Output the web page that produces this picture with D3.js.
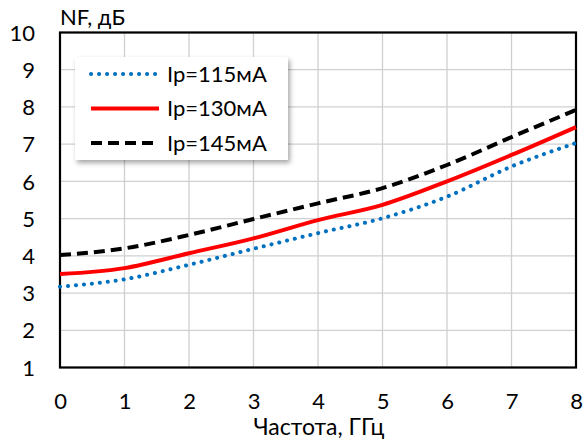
<!DOCTYPE html>
<html><head><meta charset="utf-8">
<script src="https://cdn.jsdelivr.net/npm/d3@7"></script>
<style>body{margin:0;background:#fff}svg{display:block}</style>
</head><body>
<script>
const freq = [0, 1, 2, 3, 4, 5, 6, 7, 8];
const ip115 = [3.17, 3.37, 3.76, 4.19, 4.61, 5.01, 5.59, 6.40, 7.03];
const ip130 = [3.51, 3.67, 4.07, 4.47, 4.96, 5.37, 6.00, 6.71, 7.46];
const ip145 = [4.02, 4.20, 4.56, 4.99, 5.41, 5.82, 6.44, 7.19, 7.92];
const seriesNames = ["Ip=115мА", "Ip=130мА", "Ip=145мА"];
const xTicks = [0, 1, 2, 3, 4, 5, 6, 7, 8];
const yTicks = [1, 2, 3, 4, 5, 6, 7, 8, 9, 10];

const W = 585, H = 445;
const m = {l: 60, r: 9, t: 32.5, b: 77.5};
const font = "Lato, 'Open Sans', sans-serif";
const svg = d3.select("body").append("svg").attr("width", W).attr("height", H);
const x = d3.scaleLinear().domain([0, 8]).range([m.l, W - m.r]);
const y = d3.scaleLinear().domain([1, 10]).range([H - m.b, m.t]);

const defs = svg.append("defs");
const f = defs.append("filter").attr("id", "sh").attr("x", "-10%").attr("y", "-10%").attr("width", "130%").attr("height", "140%");
f.append("feDropShadow").attr("dx", 2).attr("dy", 3).attr("stdDeviation", 2.5).attr("flood-color", "#000").attr("flood-opacity", 0.35);

// grid
svg.append("g").selectAll("line").data(xTicks).join("line")
  .attr("x1", d => x(d)).attr("x2", d => x(d)).attr("y1", y(1)).attr("y2", y(10))
  .attr("stroke", "#d0d0d0").attr("stroke-width", 1.3);
svg.append("g").selectAll("line").data(yTicks).join("line")
  .attr("y1", d => y(d)).attr("y2", d => y(d)).attr("x1", x(0)).attr("x2", x(8))
  .attr("stroke", "#d0d0d0").attr("stroke-width", 1.3);

// axes (labels)
const xAxis = svg.append("g").attr("transform", `translate(0,${y(1)})`)
  .call(d3.axisBottom(x).tickValues(xTicks).tickSize(0).tickPadding(26).tickFormat(d3.format("d")));
xAxis.select(".domain").remove();
xAxis.selectAll("text").attr("font-family", font).attr("font-size", 22).attr("fill", "#000");
const yAxis = svg.append("g").attr("transform", `translate(${x(0)},0)`)
  .call(d3.axisLeft(y).tickValues(yTicks).tickSize(0).tickPadding(25).tickFormat(d3.format("d")));
yAxis.select(".domain").remove();
yAxis.selectAll("text").attr("font-family", font).attr("font-size", 22).attr("fill", "#000").attr("dy", "0.35em");

// frame
svg.append("rect").attr("x", x(0)).attr("y", y(10)).attr("width", x(8) - x(0)).attr("height", y(1) - y(10))
  .attr("fill", "none").attr("stroke", "#000").attr("stroke-width", 2.2);

const styles = [
  {color: "#0070C0", dash: "0.1 7.9", cap: "round"},
  {color: "#FF0000", dash: null, cap: "butt"},
  {color: "#000000", dash: "11 6", cap: "butt"}
];
const data = [ip115, ip130, ip145];
const line = d3.line().x((d, i) => x(freq[i])).y(d => y(d)).curve(d3.curveMonotoneX);
data.forEach((s, k) => {
  svg.append("path").datum(s).attr("d", line).attr("fill", "none")
    .attr("stroke", styles[k].color).attr("stroke-width", 4)
    .attr("stroke-dasharray", styles[k].dash).attr("stroke-linecap", styles[k].cap);
});

// legend
const lg = svg.append("g");
lg.append("rect").attr("x", 75).attr("y", 57).attr("width", 213).attr("height", 103)
  .attr("fill", "#fff").attr("filter", "url(#sh)");
seriesNames.forEach((n, k) => {
  const yy = 74 + k * 34.5;
  lg.append("line").attr("x1", 91).attr("x2", 159).attr("y1", yy).attr("y2", yy)
    .attr("stroke", styles[k].color).attr("stroke-width", 4)
    .attr("stroke-dasharray", styles[k].dash).attr("stroke-linecap", styles[k].cap);
  lg.append("text").attr("x", 167).attr("y", yy).attr("dy", "0.35em").text(n)
    .attr("font-family", font).attr("font-size", 22);
});

// titles
svg.append("text").attr("x", 60).attr("y", 25).text("NF, дБ").attr("font-family", font).attr("font-size", 22);
svg.append("text").attr("x", 319).attr("y", 435).attr("text-anchor", "middle").text("Частота, ГГц")
  .attr("font-family", font).attr("font-size", 23);
</script>
</body></html>
